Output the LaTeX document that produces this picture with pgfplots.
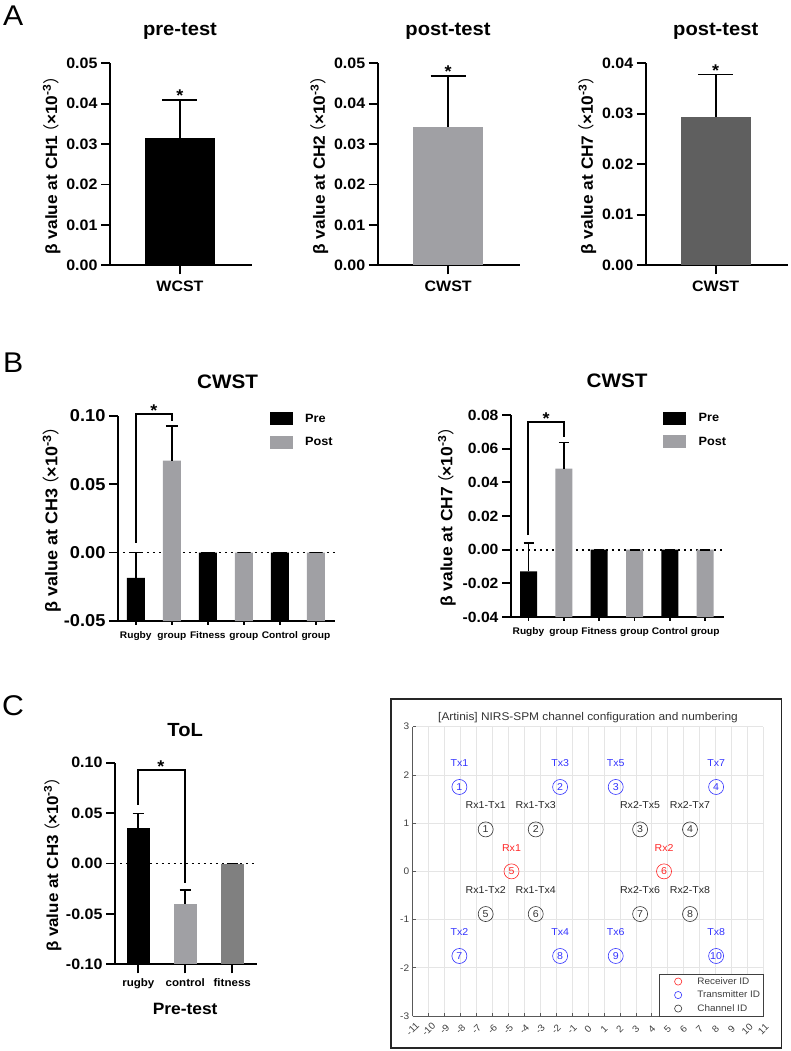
\documentclass[border=0pt]{standalone}
\usepackage{fontspec}
\usepackage{pgfplots}
\usepackage{pgfplotstable}
\pgfplotsset{compat=1.18}
\setmainfont{Liberation Sans}[FakeStretch=1.06]
\newfontfamily\cjk{Noto Sans CJK SC}
\newcommand\fs[1]{\fontsize{#1}{#1}\selectfont}
\newcommand\ylab[1]{\bfseries β value at CH#1\hspace{-0.3em}{\cjk\mdseries （}\hspace{-1pt}×10\textsuperscript{-3}{\cjk\mdseries ）}\hspace{-0.45em}}
\definecolor{barG}{HTML}{A0A0A4}
\definecolor{barD}{HTML}{5F5F5F}
\definecolor{barM}{HTML}{808080}

% single-bar panels
\pgfplotstableread{
x y err
0 0.0316 0.0094
}\aone
\pgfplotstableread{
x y err
0 0.0343 0.0126
}\atwo
\pgfplotstableread{
x y err
0 0.0294 0.0084
}\athree
% panel B, left
\pgfplotstableread{
x y err
0 -0.0185 0.0185
2 0.0000 0.0000
4 0.0000 0.0000
}\bonepre
\pgfplotstableread{
x y err
1 0.0672 0.0255
3 0.0000 0.0000
5 0.0000 0.0000
}\bonepost
% panel B, right
\pgfplotstableread{
x y err
0 -0.0129 0.0169
2 0.0000 0.0000
4 0.0000 0.0000
}\btwopre
\pgfplotstableread{
x y err
1 0.0481 0.0155
3 0.0000 0.0000
5 0.0000 0.0000
}\btwopost
% panel C
\pgfplotstableread{
x y err
0 0.0348 0.0149
}\crugby
\pgfplotstableread{
x y err
1 -0.0397 0.0137
}\ccontrol
\pgfplotstableread{
x y err
2 0.0000 0.0000
}\cfitness
% optode layout
\pgfplotstableread{
x y id
-4.80 0 5
4.77 0 6
}\rxpts
\pgfplotstableread{
x y id
-8.07 1.75 1
-1.75 1.75 2
1.74 1.75 3
8.04 1.75 4
-8.07 -1.755 7
-1.75 -1.755 8
1.74 -1.755 9
8.04 -1.755 10
}\txpts
\pgfplotstableread{
x y id
-6.42 0.87 1
-3.28 0.87 2
3.27 0.87 3
6.40 0.87 4
-6.42 -0.885 5
-3.28 -0.885 6
3.27 -0.885 7
6.40 -0.885 8
}\chpts
\pgfplotstableread{
x y id
-4.80 0.49 Rx1
4.77 0.49 Rx2
}\rxlab
\pgfplotstableread{
x y id
-8.07 2.25 Tx1
-1.75 2.25 Tx3
1.74 2.25 Tx5
8.04 2.25 Tx7
-8.07 -1.265 Tx2
-1.75 -1.265 Tx4
1.74 -1.265 Tx6
8.04 -1.265 Tx8
}\txlab
\pgfplotstableread{
x y id
-6.42 1.37 Rx1-Tx1
-3.28 1.37 Rx1-Tx3
3.27 1.37 Rx2-Tx5
6.40 1.37 Rx2-Tx7
-6.42 -0.39 Rx1-Tx2
-3.28 -0.39 Rx1-Tx4
3.27 -0.39 Rx2-Tx6
6.40 -0.39 Rx2-Tx8
}\chlab

\pgfplotsset{
  prism/.style={scale only axis, clip=false,
    axis x line=bottom, axis y line=left,
    axis line style={-, line width=1.8pt},
    tick align=outside, tick style={black, line width=1.8pt},
    major tick length=9pt,
    /pgf/number format/assume math mode=true,
    /pgf/number format/fixed, /pgf/number format/fixed zerofill,
    /pgf/number format/precision=2,
    scaled y ticks=false,
    x tick label style={text height=0.72em, text depth=0.2em},
    ylabel style={anchor=center},
    title style={anchor=center, yshift=-6pt}},
  gbar/.style n args={3}{ybar, bar width=#2, bar shift=0pt, draw=none, fill=#1,
    /pgfplots/error bars/y dir=plus, /pgfplots/error bars/y explicit,
    /pgfplots/error bars/error bar style={black, line width=1.7pt},
    /pgfplots/error bars/error mark options={rotate=90, black, line width=1.7pt, mark size=#3}},
  onebar/.style={gbar={#1}{70pt}{17.5pt}},
  zeroline/.style={forget plot, black, line width=1.8pt, dash pattern=on 1.8pt off 4.2pt},
  preleg/.style={legend image code/.code={\fill[black] (0pt,-6.5pt) rectangle (23pt,6.5pt);}},
  postleg/.style={legend image code/.code={\fill[barG] (0pt,-6.5pt) rectangle (23pt,6.5pt);}},
  optode/.style={only marks, mark=o, mark size=7.5pt, color=#1, mark options={line width=0.6pt},
    point meta=explicit symbolic, nodes near coords,
    every node near coord/.style={anchor=center, inner sep=0pt, text=#1, font=\fs{10}},
    legend image code/.code={\path (0pt,0pt) (32pt,0pt);
      \draw[mark repeat=2, mark phase=2, ##1, mark size=3.6pt]
      plot coordinates {(0pt,0pt) (16pt,0pt) (32pt,0pt)};}},
  optlab/.style={forget plot, draw=none, mark=none,
    point meta=explicit symbolic, nodes near coords,
    every node near coord/.style={anchor=center, inner sep=0pt, text=#1, font=\fs{10}}},
}

\begin{document}
\begin{tikzpicture}
\useasboundingbox (0,0) rectangle (790pt,-1051pt);

% ---- panel A
\begin{axis}[prism, at={(110pt,-265.3pt)}, anchor=south west, width=142pt, height=202pt,
  xmin=-1, xmax=1.03, ymin=0, ymax=0.05, ytick={0,0.01,...,0.05},
  xtick={0}, xticklabels={WCST},
  tick label style={font=\fs{15.1}\bfseries},
  x tick label style={yshift=-6pt},
  title={\fs{19}\bfseries pre-test}, title style={at={(axis description cs:0.493,1.16)}},
  ylabel={\fs{16.3}\ylab{1}}, ylabel style={at={(axis description cs:-0.41,0.515)}}]
\addplot[onebar=black] table[x=x, y=y, y error=err] {\aone};
\end{axis}

\begin{axis}[prism, at={(377.7pt,-265.3pt)}, anchor=south west, width=142.3pt, height=202pt,
  xmin=-1, xmax=1.02, ymin=0, ymax=0.05, ytick={0,0.01,...,0.05},
  xtick={0}, xticklabels={CWST},
  tick label style={font=\fs{15.1}\bfseries},
  x tick label style={yshift=-6pt},
  title={\fs{19}\bfseries post-test}, title style={at={(axis description cs:0.494,1.16)}},
  ylabel={\fs{16.3}\ylab{2}}, ylabel style={at={(axis description cs:-0.41,0.515)}}]
\addplot[onebar=barG] table[x=x, y=y, y error=err] {\atwo};
\end{axis}

\begin{axis}[prism, at={(645.7pt,-265.3pt)}, anchor=south west, width=142pt, height=202pt,
  xmin=-1, xmax=1.03, ymin=0, ymax=0.04, ytick={0,0.01,...,0.04},
  xtick={0}, xticklabels={CWST},
  tick label style={font=\fs{15.1}\bfseries},
  x tick label style={yshift=-6pt},
  title={\fs{19}\bfseries post-test}, title style={at={(axis description cs:0.493,1.16)}},
  ylabel={\fs{16.3}\ylab{7}}, ylabel style={at={(axis description cs:-0.41,0.515)}}]
\addplot[onebar=barD] table[x=x, y=y, y error=err] {\athree};
\end{axis}

% ---- panel B (bars stand on the axis floor, so the scale is lifted by the floor value)
\begin{axis}[prism, at={(118pt,-621pt)}, anchor=south west, width=217pt, height=205.3pt,
  y filter/.expression={y+0.05},
  xmin=-0.494, xmax=5.53, ymin=0, ymax=0.15, ytick={0,0.05,0.10,0.15},
  yticklabels={-0.05,0.00,0.05,0.10},
  xtick={0,...,5}, xticklabels={Rugby,group,Fitness,group,Control,group},
  y tick label style={font=\fs{17.2}\bfseries},
  x tick label style={font=\fs{9.6}\bfseries, inner ysep=1.5pt},
  xtick style={/pgfplots/major tick length=3.5pt},
  title={\fs{19.5}\bfseries CWST}, title style={at={(axis description cs:0.505,1.166)}},
  ylabel={\fs{17}\ylab{3}}, ylabel style={at={(axis description cs:-0.305,0.515)}},
  legend style={at={(axis description cs:0.70,1.02)}, anchor=north west, draw=none, fill=none,
    inner sep=0pt, row sep=10pt, font=\fs{12}\bfseries, cells={anchor=west},
    /tikz/every odd column/.append style={column sep=10pt}}]
\addplot[zeroline] coordinates {(-0.36,0) (5.53,0)};
\addplot[gbar={black}{18pt}{6pt}, preleg] table[x=x, y=y, y error=err] {\bonepre};
\addplot[gbar={barG}{18pt}{6pt}, postleg] table[x=x, y=y, y error=err] {\bonepost};
\legend{Pre,Post}
\end{axis}

\begin{axis}[prism, at={(511pt,-617pt)}, anchor=south west, width=213.3pt, height=202pt,
  y filter/.expression={y+0.04},
  xmin=-0.495, xmax=5.54, ymin=0, ymax=0.12, ytick={0,0.02,0.04,0.06,0.08,0.10,0.12},
  yticklabels={-0.04,-0.02,0.00,0.02,0.04,0.06,0.08},
  xtick={0,...,5}, xticklabels={Rugby,group,Fitness,group,Control,group},
  y tick label style={font=\fs{14.8}\bfseries},
  x tick label style={font=\fs{9.6}\bfseries, inner ysep=1.5pt},
  xtick style={/pgfplots/major tick length=3.5pt},
  title={\fs{19.5}\bfseries CWST}, title style={at={(axis description cs:0.497,1.17)}},
  ylabel={\fs{16.4}\ylab{7}}, ylabel style={at={(axis description cs:-0.30,0.515)}},
  legend style={at={(axis description cs:0.71,1.02)}, anchor=north west, draw=none, fill=none,
    inner sep=0pt, row sep=10pt, font=\fs{12}\bfseries, cells={anchor=west},
    /tikz/every odd column/.append style={column sep=11pt}}]
\addplot[zeroline] coordinates {(-0.354,0) (5.54,0)};
\addplot[gbar={black}{17pt}{5pt}, preleg] table[x=x, y=y, y error=err] {\btwopre};
\addplot[gbar={barG}{17pt}{5pt}, postleg] table[x=x, y=y, y error=err] {\btwopost};
\legend{Pre,Post}
\end{axis}

% ---- panel C
\begin{axis}[prism, at={(115pt,-964.3pt)}, anchor=south west, width=141.7pt, height=201.6pt,
  y filter/.expression={y+0.10},
  xmin=-0.496, xmax=2.52, ymin=0, ymax=0.20, ytick={0,0.05,0.10,0.15,0.20},
  yticklabels={-0.10,-0.05,0.00,0.05,0.10},
  xtick={0,1,2}, xticklabels={rugby,control,fitness},
  y tick label style={font=\fs{15.1}\bfseries},
  x tick label style={font=\fs{10.9}\bfseries, yshift=-2pt},
  title={\fs{19}\bfseries ToL}, title style={at={(axis description cs:0.495,1.162)}},
  xlabel={\fs{16.4}\bfseries Pre-test}, xlabel style={at={(axis description cs:0.495,-0.22)}, anchor=center},
  ylabel={\fs{16}\ylab{3}}, ylabel style={at={(axis description cs:-0.44,0.515)}}]
\addplot[zeroline] coordinates {(-0.39,0) (2.52,0)};
\addplot[gbar={black}{23.3pt}{5.7pt}] table[x=x, y=y, y error=err] {\crugby};
\addplot[gbar={barG}{23.3pt}{5.7pt}] table[x=x, y=y, y error=err] {\ccontrol};
\addplot[gbar={barM}{23.3pt}{5.7pt}] table[x=x, y=y, y error=err] {\cfitness};
\end{axis}

% ---- channel layout
\draw[line width=1.3pt, black!85] (391pt,-699pt) rectangle (781.5pt,-1048pt);
\begin{axis}[scale only axis, at={(412.7pt,-1016pt)}, anchor=south west, width=350.6pt, height=289.3pt,
  axis x line=bottom, axis y line=left, axis line style={-, black!65, line width=0.6pt},
  xmin=-11, xmax=11, ymin=-3, ymax=3, xtick={-11,...,11}, ytick={-3,...,3},
  grid=major, grid style={black!10, line width=0.6pt},
  tick align=inside, tick style={black!65, line width=0.6pt}, major tick length=3pt,
  /pgf/number format/assume math mode=true,
  tick label style={font=\fs{9.5}, text=black!75},
  x tick label style={rotate=45, anchor=center, inner sep=0pt, xshift=-9.2pt, yshift=-9.2pt},
  title={\fs{11.2}[Artinis] NIRS-SPM channel configuration and numbering},
  title style={at={(axis description cs:0.5,1.031)}, anchor=center, yshift=-6pt, text=black!80},
  legend style={at={(axis description cs:1,0)}, anchor=south east, draw=black!75, fill=white,
    font=\fs{9.4}, text=black!75, row sep=0pt, cells={anchor=west}, inner xsep=3pt, inner ysep=0.5pt,
    nodes={inner ysep=2pt, inner xsep=0pt, text height=7.5pt, text depth=2pt},
    /tikz/every odd column/.append style={column sep=3pt}}]
\addplot[optode=red!85!white] table[x=x, y=y, meta=id] {\rxpts};
\addlegendentry{Receiver ID}
\addplot[optode=blue!80!white] table[x=x, y=y, meta=id] {\txpts};
\addlegendentry{Transmitter ID}
\addplot[optode=black!80] table[x=x, y=y, meta=id] {\chpts};
\addlegendentry{Channel ID}
\addplot[optlab=red!85!white] table[x=x, y=y, meta=id] {\rxlab};
\addplot[optlab=blue!80!white] table[x=x, y=y, meta=id] {\txlab};
\addplot[optlab=black!85] table[x=x, y=y, meta=id] {\chlab};
\end{axis}

% ---- significance brackets and stars
\tikzset{sig/.style={line width=1.7pt, black}, star/.style={inner sep=0pt, font=\fs{17}\bfseries}}
\draw[sig] (135.7pt,-542.7pt) -- (135.7pt,-414pt) -- (172pt,-414pt) -- (172pt,-421pt);
\draw[sig] (528.3pt,-535pt) -- (528.3pt,-421.7pt) -- (563.7pt,-421.7pt) -- (563.7pt,-436.7pt);
\draw[sig] (138.3pt,-804.7pt) -- (138.3pt,-769.7pt) -- (185.3pt,-769.7pt) -- (185.3pt,-883pt);
\node[star] at (180pt,-96pt) {*};
\node[star] at (448pt,-72pt) {*};
\node[star] at (715.7pt,-70.5pt) {*};
\node[star] at (154pt,-411pt) {*};
\node[star] at (546pt,-418.5pt) {*};
\node[star] at (161pt,-766.5pt) {*};

% ---- panel letters
\node[font=\fs{28.5}, inner sep=0pt, anchor=base west] at (3pt,-26pt) {A};
\node[font=\fs{28.5}, inner sep=0pt, anchor=base west] at (3pt,-372pt) {B};
\node[font=\fs{28.5}, inner sep=0pt, anchor=base west] at (2pt,-715pt) {C};
\end{tikzpicture}
\end{document}
